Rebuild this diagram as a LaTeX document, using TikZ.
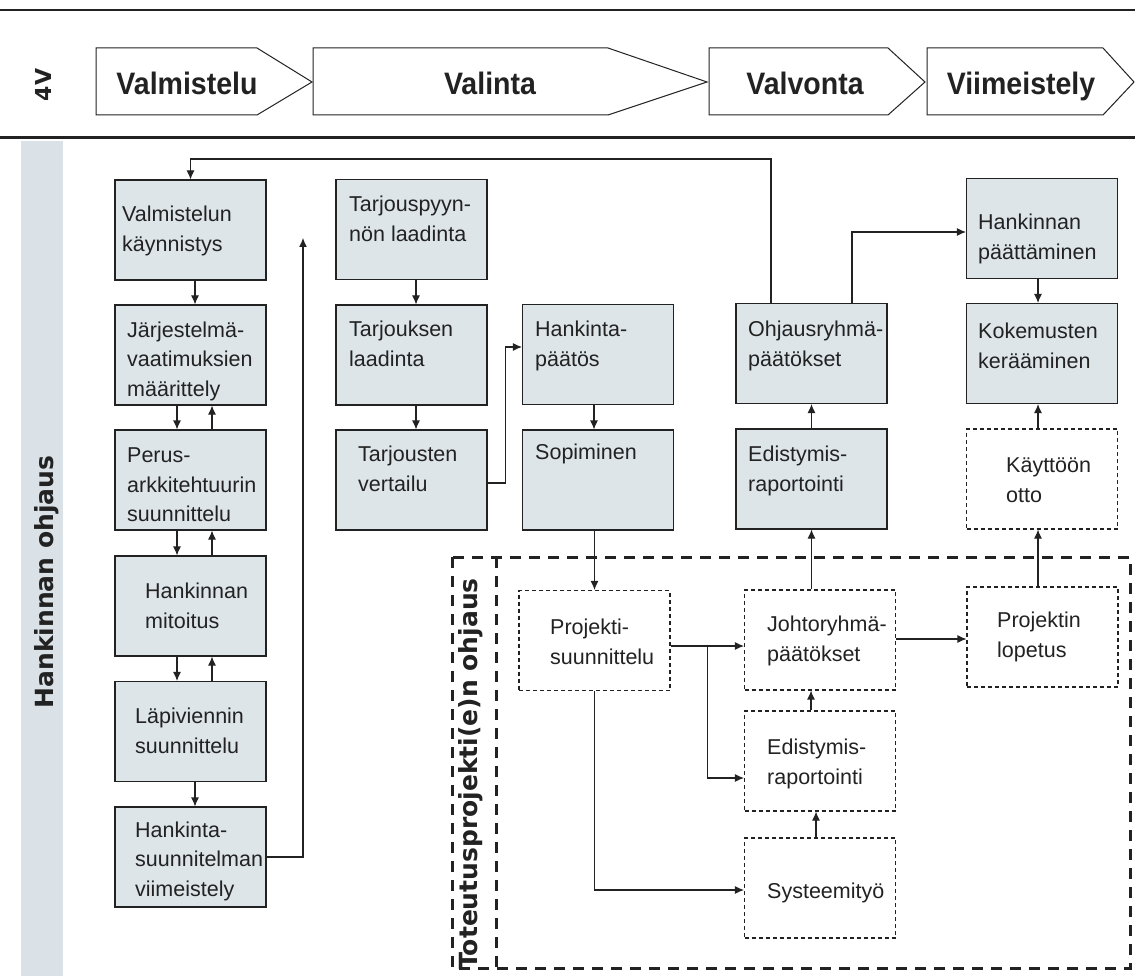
\documentclass[tikz,border=0pt]{standalone}
\usepackage{fontspec}
\setmainfont{Liberation Sans}
\newfontfamily\hdrfont[FakeStretch=0.92]{Liberation Sans}
\newfontfamily\djfont{DejaVu Sans}
\usetikzlibrary{arrows.meta,calc}
\definecolor{boxfill}{RGB}{221,229,233}
\definecolor{bandfill}{RGB}{218,226,231}
\definecolor{ink}{RGB}{34,34,34}
\begin{document}
\begin{tikzpicture}[x=1pt,y=-1pt,
  conn/.style={draw=ink, line width=1.1pt},
  arr/.style={conn, -{Latex[length=9pt,width=8pt]}},
  gbox/.style={draw=ink, fill=boxfill, line width=1.1pt, minimum width=151pt, minimum height=100pt, inner sep=0pt},
  dbox/.style={draw=ink, fill=white, line width=1.1pt, dash pattern=on 4pt off 3pt, minimum width=151pt, minimum height=100pt, inner sep=0pt},
  txt/.style={anchor=west, align=left, inner sep=0pt, font=\fontsize{21.5}{29.5}\selectfont, text=ink},
  phase/.style={draw=ink, line width=1pt, fill=white},
  phasetxt/.style={anchor=base, font=\hdrfont\bfseries\fontsize{31}{31}\selectfont, text=ink, inner sep=0pt},
  vlbl/.style={rotate=90, anchor=base, font=\djfont\bfseries\fontsize{25}{25}\selectfont, text=ink, inner sep=0pt},
  bigdash/.style={draw=ink, line width=3pt, dash pattern=on 11pt off 8pt},
]
\fill[white] (0,0) rectangle (1135,976);
\useasboundingbox (0,0) rectangle (1135,976);

% header
\draw[ink, line width=2.5pt] (0,10) -- (1135,10);
\draw[ink, line width=3pt] (0,138) -- (1135,138);
\fill[bandfill] (21,141) rectangle (63,976);

\draw[phase] (96,48) -- (257,48) -- (312,82) -- (257,115) -- (96,115) -- cycle;
\draw[phase] (313,48) -- (608,48) -- (707,82) -- (608,115) -- (313,115) -- cycle;
\draw[phase] (709,48) -- (888,48) -- (925,82) -- (888,115) -- (709,115) -- cycle;
\draw[phase] (927,48) -- (1103,48) -- (1134,82) -- (1103,115) -- (927,115) -- cycle;
\node[phasetxt] (p1) at (187,95) {Valmistelu};
\node[phasetxt] (p2) at (490,95) {Valinta};
\node[phasetxt] (p3) at (805,95) {Valvonta};
\node[phasetxt] (p4) at (1021,95) {Viimeistely};
\node[vlbl, font=\djfont\bfseries\fontsize{22}{22}\selectfont] (v4) at (51,85) {4V};
\node[vlbl] (hoh) at (53,582) {Hankinnan ohjaus};

% project frame
\draw[bigdash] (452,557) rectangle (1130,968);
\draw[bigdash] (496,557) -- (496,968);
\node[vlbl] (toh) at (477,774) {Toteutusprojekti(e)n ohjaus};

% left column
\node[gbox] (A1) at (190.5,230) {};
\node[gbox] (A2) at (190.5,355) {};
\node[gbox] (A3) at (190.5,480) {};
\node[gbox] (A4) at (190.5,606) {};
\node[gbox] (A5) at (190.5,731.5) {};
\node[gbox] (A6) at (190.5,857) {};
\node[txt] (tA1) at (122,231) {Valmistelun\\käynnistys};
\node[txt] (tA2) at (127,361) {Järjestelmä-\\vaatimuksien\\määrittely};
\node[txt] (tA3) at (127,485) {Perus-\\arkkitehtuurin\\suunnittelu};
\node[txt] (tA4) at (145,606) {Hankinnan\\mitoitus};
\node[txt] (tA5) at (135,731) {Läpiviennin\\suunnittelu};
\node[txt] (tA6) at (135,861) {Hankinta-\\suunnitelman\\viimeistely};

% middle column
\node[gbox] (B1) at (411.5,229.5) {};
\node[gbox] (B2) at (411.5,355) {};
\node[gbox] (B3) at (411.5,480) {};
\node[gbox] (B4) at (598,354.5) {};
\node[gbox] (B5) at (598,480) {};
\node[txt] (tB1) at (349,219) {Tarjouspyyn-\\nön laadinta};
\node[txt] (tB2) at (349,344) {Tarjouksen\\laadinta};
\node[txt] (tB3) at (358,469) {Tarjousten\\vertailu};
\node[txt] (tB4) at (535,346) {Hankinta-\\päätös};
\node[txt] (tB5) at (535,454) {Sopiminen};

% right columns
\node[gbox] (C1) at (811.5,353.5) {};
\node[gbox] (C2) at (811.5,479) {};
\node[gbox] (D1) at (1042,228.5) {};
\node[gbox] (D2) at (1042,353.5) {};
\node[dbox] (D3) at (1042,479) {};
\node[txt] (tC1) at (748,346) {Ohjausryhmä-\\päätökset};
\node[txt] (tC2) at (748,471) {Edistymis-\\raportointi};
\node[txt] (tD1) at (978,239) {Hankinnan\\päättäminen};
\node[txt] (tD2) at (978,346) {Kokemusten\\kerääminen};
\node[txt] (tD3) at (1006,480) {Käyttöön\\otto};

% project boxes
\node[dbox] (E1) at (594.5,640.5) {};
\node[dbox] (E2) at (820,640) {};
\node[dbox] (E3) at (1042.5,637) {};
\node[dbox] (E4) at (820,761) {};
\node[dbox] (E5) at (820,888) {};
\node[txt] (tE1) at (550,642) {Projekti-\\suunnittelu};
\node[txt] (tE2) at (767,641) {Johtoryhmä-\\päätökset};
\node[txt] (tE3) at (997,637) {Projektin\\lopetus};
\node[txt] (tE4) at (767,764) {Edistymis-\\raportointi};
\node[txt] (tE5) at (767,893) {Systeemityö};

% connectors left column
\draw[arr] ($(A1.south)+(4.5,0)$) -- ($(A2.north)+(4.5,0)$);
\draw[arr] ($(A2.south)+(-13.5,0)$) -- ($(A3.north)+(-13.5,0)$);
\draw[arr] ($(A3.north)+(21.5,0)$) -- ($(A2.south)+(21.5,0)$);
\draw[arr] ($(A3.south)+(-13.5,0)$) -- ($(A4.north)+(-13.5,0)$);
\draw[arr] ($(A4.north)+(21.5,0)$) -- ($(A3.south)+(21.5,0)$);
\draw[arr] ($(A4.south)+(-13.5,0)$) -- ($(A5.north)+(-13.5,0)$);
\draw[arr] ($(A5.north)+(21.5,0)$) -- ($(A4.south)+(21.5,0)$);
\draw[arr] ($(A5.south)+(4.5,0)$) -- ($(A6.north)+(4.5,0)$);
\coordinate (fbtip) at (303,238);
\draw[arr] (A6.east) -| (fbtip);
\coordinate (topy) at (0,159);
\draw[arr] ($(C1.north)+(-40.5,0)$) |- (topy -| A1.north) -- (A1.north);

% middle
\draw[arr] ($(B1.south)+(4.5,0)$) -- ($(B2.north)+(4.5,0)$);
\draw[arr] ($(B2.south)+(4.5,0)$) -- ($(B3.north)+(4.5,0)$);
\draw[arr] ($(B3.east)+(0,3)$) -- ++(18,0) |- ($(B4.west)+(0,-7.5)$);
\draw[arr] ($(B4.south)+(-4,0)$) -- ($(B5.north)+(-4,0)$);
\draw[arr] (B5.south -| E1.north) -- (E1.north);

% right
\draw[arr] (C2.north) -- (C1.south);
\draw[arr] (E2.north -| C2.south) -- (C2.south);
\draw[arr] ($(C1.north)+(40.5,0)$) |- ($(D1.west)+(0,3.5)$);
\draw[arr] ($(D1.south)+(-4,0)$) -- ($(D2.north)+(-4,0)$);
\draw[arr] ($(D3.north)+(-4,0)$) -- ($(D2.south)+(-4,0)$);
\draw[arr] ($(E3.north)+(-4.5,0)$) -- ($(D3.south)+(-4,0)$);

% project
\draw[arr] ($(E1.east)+(0,5.5)$) -- ($(E2.west)+(0,6)$);
\draw[arr] ($(E1.east)+(37,5.5)$) |- ($(E4.west)+(0,17)$);
\draw[arr] (E1.south) |- ($(E5.west)+(0,2)$);
\draw[arr] ($(E5.north)+(-4,0)$) -- ($(E4.south)+(-4,0)$);
\draw[arr] ($(E4.north)+(-9,0)$) -- ($(E2.south)+(-9,0)$);
\draw[arr] ($(E2.east)+(0,-1)$) -- ($(E3.west)+(0,2)$);
\end{tikzpicture}
\end{document}
